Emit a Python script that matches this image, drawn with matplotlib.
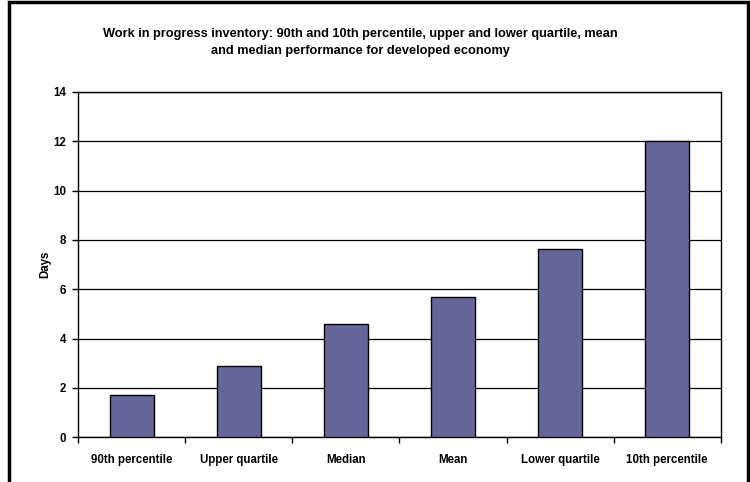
import matplotlib
matplotlib.use("Agg")
import matplotlib.pyplot as plt
from matplotlib.patches import Rectangle

categories = ["90th percentile", "Upper quartile", "Median", "Mean",
              "Lower quartile", "10th percentile"]
days = [1.72, 2.9, 4.6, 5.67, 7.62, 12.0]
yticks = [0, 2, 4, 6, 8, 10, 12, 14]

title = ("Work in progress inventory: 90th and 10th percentile, upper and lower quartile, mean\n"
         "and median performance for developed economy")

plt.rcParams['font.family'] = ['Liberation Sans', 'DejaVu Sans']

fig = plt.figure(figsize=(7.5, 4.82), dpi=100)
fig.patch.set_facecolor('white')

# outer chart frame (bottom edge runs off the image)
fig.patches.append(Rectangle((9/750, -0.05), 739/750, 1.05 - 2/482,
                             transform=fig.transFigure, fill=False,
                             edgecolor='black', lw=2.5, zorder=0))

ax = fig.add_axes([78.3/750, 1-437.3/482, 642.4/750, 345.3/482])

x = range(len(categories))
ax.bar(x, days, width=0.41, color='#666699', edgecolor='black', lw=1, zorder=3)

ax.set_xlim(-0.5, len(categories) - 0.5)
ax.set_ylim(0, 14)
ax.set_yticks(yticks)
ax.set_yticklabels([str(t) for t in yticks], fontsize=8.3, fontweight='bold')
ax.grid(axis='y', color='black', lw=0.9, zorder=0)

# category labels between boundary ticks
ax.set_xticks([i - 0.5 for i in range(len(categories) + 1)])
ax.set_xticklabels([])
ax.set_xticks(list(x), minor=True)
ax.set_xticklabels(categories, minor=True, fontsize=8.3, fontweight='bold')
ax.tick_params(axis='x', which='minor', length=0, pad=12)
ax.tick_params(axis='x', which='major', length=4, width=1, direction='out')
ax.tick_params(axis='y', length=4, width=1, direction='out', pad=5)

for s in ax.spines.values():
    s.set_color('black')
    s.set_linewidth(1)

ax.set_ylabel("Days", fontsize=8.3, fontweight='bold', labelpad=1)

fig.text(360/750, 1-42.5/482, title, ha='center', va='center',
         fontsize=9.2, fontweight='bold', linespacing=1.5)

fig.savefig("out.png", dpi=100, facecolor='white')
